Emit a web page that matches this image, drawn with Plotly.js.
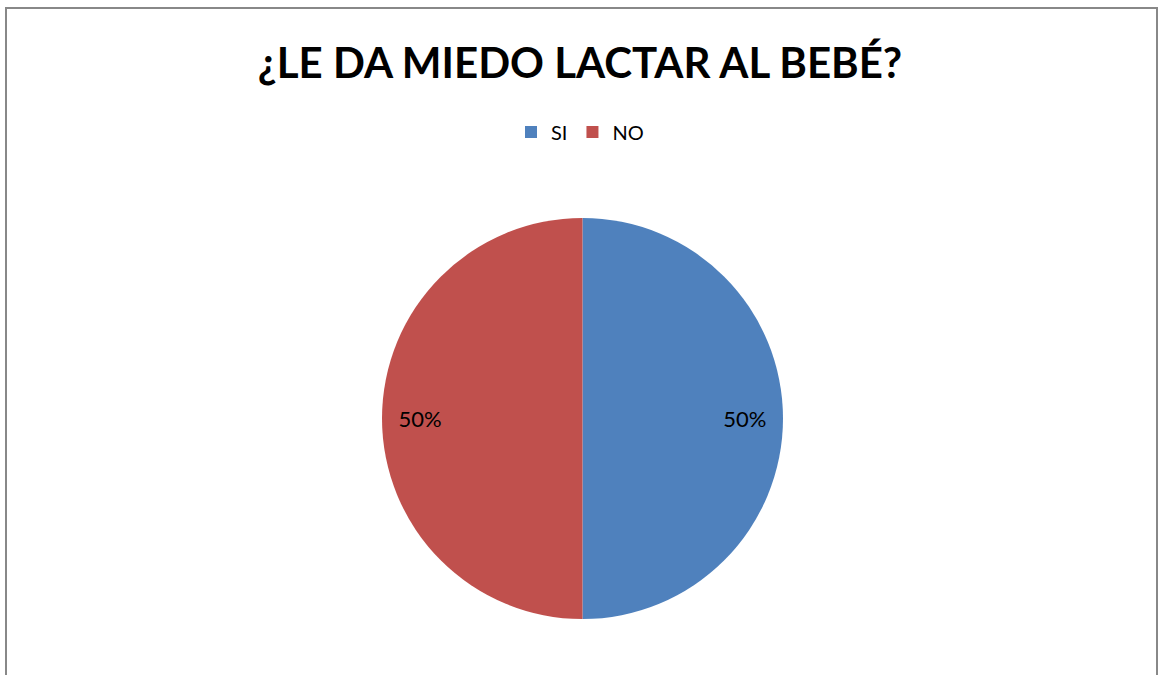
<!DOCTYPE html>
<html>
<head>
<meta charset="utf-8">
<script src="https://cdn.plot.ly/plotly-3.0.1.min.js"></script>
<style>
html,body{margin:0;padding:0;background:#fff;}
#chart{width:1160px;height:675px;}
</style>
</head>
<body>
<div id="chart"></div>
<script>
const categories = ["SI", "NO"];
const values = [50, 50];
const colors = ["#4F81BD", "#C0504D"];
const chartTitle = "¿LE DA MIEDO LACTAR AL BEBÉ?";

const pieDomain = {x: [382/1160, 783/1160], y: [(675-619)/675, (675-218)/675]};

const pieTrace = {
  type: "pie",
  labels: categories,
  values: values,
  sort: false,
  direction: "clockwise",
  rotation: 0,
  marker: {colors: colors, line: {color: "#ffffff", width: 0}},
  textinfo: "none",
  domain: pieDomain,
  showlegend: true
};

// transparent ring used only to place the percentage labels near the rim
const labelTrace = {
  type: "pie",
  labels: categories,
  values: values,
  sort: false,
  direction: "clockwise",
  rotation: 0,
  hole: 0.62,
  marker: {colors: ["rgba(0,0,0,0)", "rgba(0,0,0,0)"], line: {width: 0}},
  textinfo: "percent",
  texttemplate: "%{percent:.0%}",
  textposition: "inside",
  insidetextorientation: "horizontal",
  textfont: {family: "Lato, 'Open Sans', sans-serif", size: 22, color: "#000"},
  domain: pieDomain,
  showlegend: false
};

const layout = {
  width: 1160, height: 675,
  margin: {l: 0, r: 0, t: 0, b: 0},
  paper_bgcolor: "#ffffff",
  plot_bgcolor: "#ffffff",
  title: {
    text: "<b>" + chartTitle + "</b>",
    font: {family: "Lato, 'Open Sans', sans-serif", size: 42, color: "#000"},
    x: 0.5, xanchor: "center",
    y: 1 - 63/675, yanchor: "middle",
    xref: "paper", yref: "paper"
  },
  legend: {
    orientation: "h",
    x: 0.5, xanchor: "center",
    y: 1 - 132/675, yanchor: "middle",
    font: {family: "Lato, 'Open Sans', sans-serif", size: 20, color: "#000"},
    itemwidth: 30,
    traceorder: "normal"
  },
  shapes: [{
    type: "rect", xref: "paper", yref: "paper",
    x0: 6/1160, x1: 1157/1160, y0: -0.02, y1: 1 - 8/675,
    line: {color: "#888888", width: 2}, fillcolor: "rgba(0,0,0,0)"
  }]
};

Plotly.newPlot("chart", [pieTrace, labelTrace], layout, {displayModeBar: false, staticPlot: true});
</script>
</body>
</html>
